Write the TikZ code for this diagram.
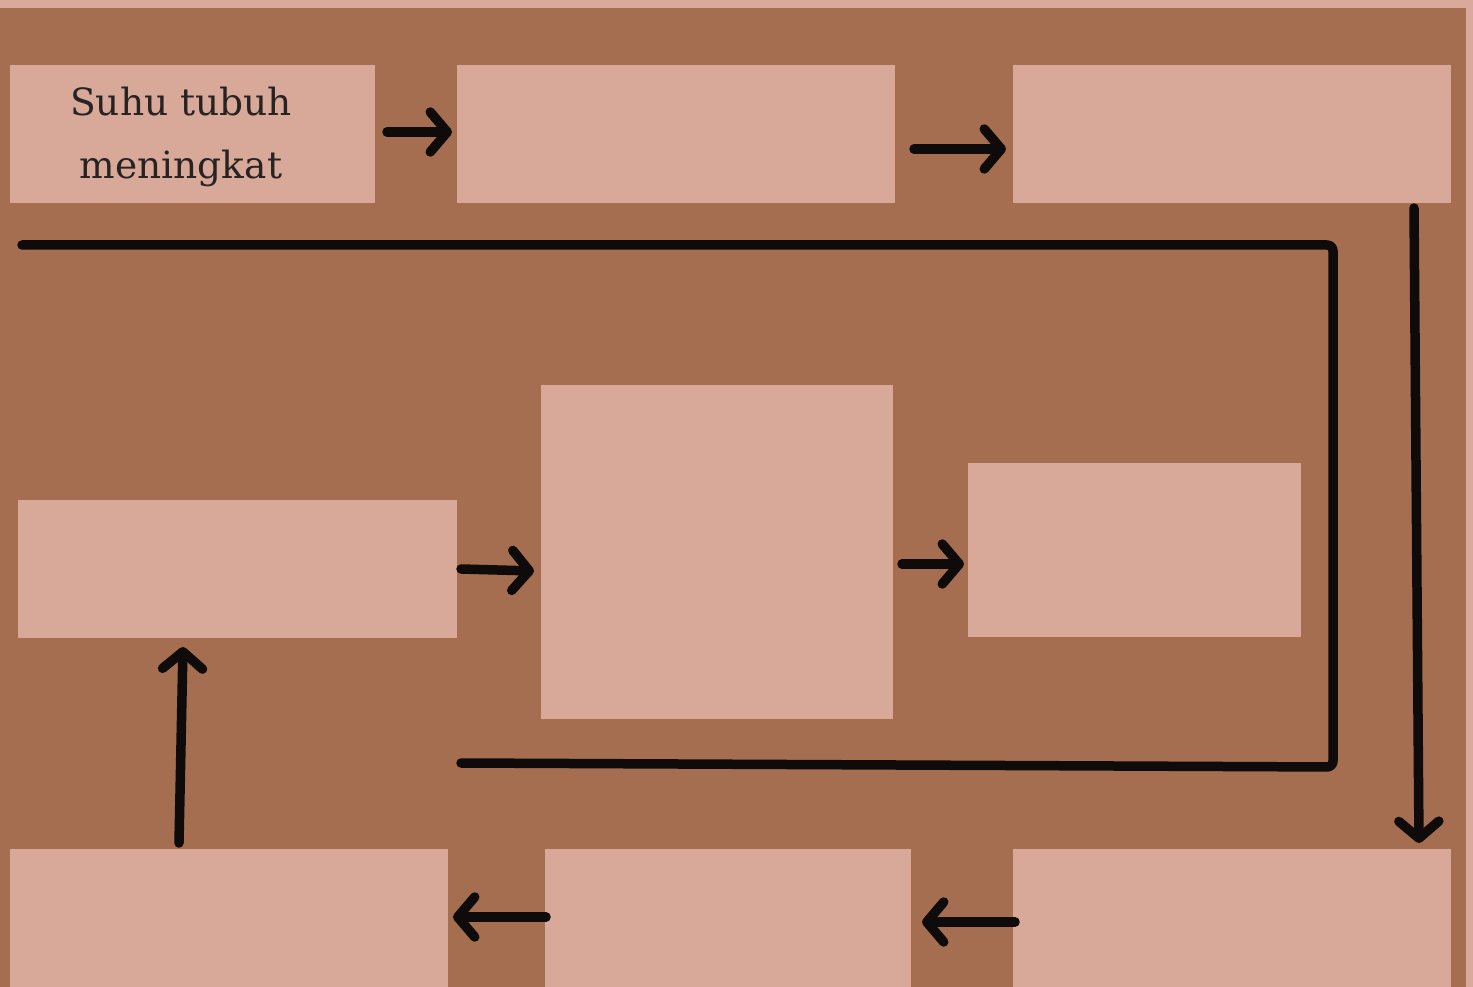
\documentclass[tikz,border=0pt]{standalone}
\usepackage{fontspec}
\setmainfont{DejaVu Serif}
\usetikzlibrary{arrows.meta}
\definecolor{bgbrown}{HTML}{A56E50}
\definecolor{boxpink}{HTML}{D8A899}
\definecolor{framepink}{HTML}{D9AA9B}
\definecolor{ink}{HTML}{0E0B0A}
\tikzset{
  box/.style={fill=boxpink, draw=none, inner sep=0pt},
  flow/.style={line width=9.5pt, line cap=round, line join=round, ink,
    -{Straight Barb[length=17pt,width=40pt,line width=9.5pt,round]}},
  plain/.style={line width=9.5pt, line cap=round, line join=round, ink, rounded corners=6pt}
}
\begin{document}
\begin{tikzpicture}[x=1pt,y=-1pt]
\useasboundingbox (0,0) rectangle (1473,987);
\fill[framepink] (0,0) rectangle (1473,987);
\fill[bgbrown] (0,8) rectangle (1466,987);
% boxes
\node[box, minimum width=365pt, minimum height=138pt] (A) at (192.5,134) {};
\node[box, minimum width=438pt, minimum height=138pt] (B) at (676,134) {};
\node[box, minimum width=438pt, minimum height=138pt] (C) at (1232,134) {};
\node[box, minimum width=439pt, minimum height=138pt] (D) at (237.5,569) {};
\node[box, minimum width=352pt, minimum height=334pt] (E) at (717,552) {};
\node[box, minimum width=333pt, minimum height=174pt] (F) at (1134.5,550) {};
\node[box, minimum width=438pt, minimum height=140pt] (G) at (229,919) {};
\node[box, minimum width=366pt, minimum height=140pt] (H) at (728,919) {};
\node[box, minimum width=438pt, minimum height=140pt] (I) at (1232,919) {};
\node[align=center, font=\fontsize{37.5}{63}\selectfont, text=ink!90] (At) at (181,137) {Suhu tubuh\\meningkat};
% coordinates for connectors
\coordinate (a1) at (387,132); \coordinate (b1) at (452,132);
\coordinate (b2) at (914,149); \coordinate (c1) at (1006,149);
\coordinate (c2) at (1414,208); \coordinate (i1) at (1419,843);
\coordinate (i2) at (1015,922); \coordinate (h1) at (922,922);
\coordinate (h2) at (546,917); \coordinate (g1) at (453,917);
\coordinate (g2) at (179,843); \coordinate (d1) at (183,647);
\coordinate (d2) at (461,569); \coordinate (e1) at (534,571);
\coordinate (e2) at (902,564); \coordinate (f1) at (964,564);
\coordinate (l1) at (22,245); \coordinate (l2) at (1333,245);
\coordinate (l3) at (1333,767); \coordinate (l4) at (461,763);
% connectors
\draw[flow] (a1) -- (b1);
\draw[flow] (b2) -- (c1);
\draw[flow] (c2) -- (i1);
\draw[flow] (i2) -- (h1);
\draw[flow] (h2) -- (g1);
\draw[flow] (g2) -- (d1);
\draw[flow] (d2) -- (e1);
\draw[flow] (e2) -- (f1);
\draw[plain] (l1) -- (l2) -- (l3) -- (l4);
\end{tikzpicture}
\end{document}
